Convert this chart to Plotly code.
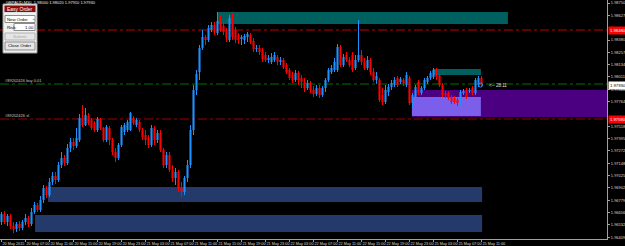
import plotly.graph_objects as go

# ---------------- data ----------------
OPEN = [1.9656, 1.9664, 1.9656, 1.9662, 1.9652, 1.9649, 1.9654, 1.9650, 1.9656, 1.9660,
        1.9654, 1.9666, 1.9673, 1.9668, 1.9678, 1.9690, 1.9683, 1.9696, 1.9702, 1.9698,
        1.9713, 1.9720, 1.9715, 1.9730, 1.9736, 1.9732, 1.9738, 1.9760, 1.9753, 1.9762,
        1.9758, 1.9755, 1.9748, 1.9759, 1.9750, 1.9738, 1.9750, 1.9738, 1.9726, 1.9720,
        1.9733, 1.9746, 1.9748, 1.9748, 1.9760, 1.9753, 1.9756, 1.9748, 1.9743, 1.9740,
        1.9733, 1.9750, 1.9738, 1.9745, 1.9728, 1.9713, 1.9723, 1.9708, 1.9700, 1.9706,
        1.9690, 1.9686, 1.9700, 1.9713, 1.9748, 1.9788, 1.9806, 1.9830, 1.9841, 1.9838,
        1.9848, 1.9853, 1.9845, 1.9857, 1.9852, 1.9848, 1.9838, 1.9860, 1.9848, 1.9843,
        1.9839, 1.9838, 1.9841, 1.9843, 1.9837, 1.9829, 1.9830, 1.9828, 1.9823, 1.9818,
        1.9816, 1.9818, 1.9821, 1.9816, 1.9818, 1.9813, 1.9808, 1.9803, 1.9798, 1.9805,
        1.9800, 1.9796, 1.9790, 1.9795, 1.9788, 1.9784, 1.9790, 1.9783, 1.9790, 1.9798,
        1.9806, 1.9808, 1.9808, 1.9831, 1.9813, 1.9823, 1.9818, 1.9823, 1.9810, 1.9818,
        1.9823, 1.9816, 1.9810, 1.9818, 1.9806, 1.9798, 1.9798, 1.9783, 1.9776, 1.9786,
        1.9791, 1.9793, 1.9800, 1.9796, 1.9798, 1.9793, 1.9800, 1.9775, 1.9781, 1.9796,
        1.9785, 1.9790, 1.9796, 1.9800, 1.9801, 1.9808, 1.9803, 1.9793, 1.9785, 1.9785,
        1.9781, 1.9780, 1.9778, 1.9775, 1.9785, 1.9788, 1.9787, 1.9790, 1.9785, 1.9793,
        1.9800]
HIGH = [1.9666, 1.9667, 1.9664, 1.9664, 1.9656, 1.9656, 1.9657, 1.9658, 1.9664, 1.9662,
        1.9670, 1.9676, 1.9675, 1.9682, 1.9693, 1.9692, 1.9700, 1.9706, 1.9706, 1.9716,
        1.9726, 1.9723, 1.9734, 1.9740, 1.9740, 1.9750, 1.9764, 1.9773, 1.9770, 1.9765,
        1.9760, 1.9757, 1.9761, 1.9760, 1.9751, 1.9753, 1.9752, 1.9740, 1.9730, 1.9735,
        1.9753, 1.9755, 1.9758, 1.9766, 1.9762, 1.9760, 1.9758, 1.9750, 1.9748, 1.9743,
        1.9753, 1.9752, 1.9748, 1.9748, 1.9730, 1.9726, 1.9726, 1.9713, 1.9710, 1.9708,
        1.9696, 1.9702, 1.9718, 1.9753, 1.9793, 1.9808, 1.9833, 1.9848, 1.9843, 1.9853,
        1.9856, 1.9856, 1.9866, 1.9863, 1.9856, 1.9850, 1.9863, 1.9865, 1.9851, 1.9845,
        1.9843, 1.9844, 1.9846, 1.9845, 1.9840, 1.9833, 1.9833, 1.9830, 1.9826, 1.9823,
        1.9825, 1.9826, 1.9823, 1.9821, 1.9820, 1.9815, 1.9810, 1.9806, 1.9808, 1.9807,
        1.9803, 1.9800, 1.9798, 1.9797, 1.9792, 1.9793, 1.9793, 1.9792, 1.9800, 1.9810,
        1.9813, 1.9820, 1.9834, 1.9833, 1.9824, 1.9826, 1.9821, 1.9826, 1.9823, 1.9858,
        1.9828, 1.9820, 1.9822, 1.9820, 1.9810, 1.9806, 1.9800, 1.9790, 1.9793, 1.9794,
        1.9798, 1.9801, 1.9802, 1.9801, 1.9800, 1.9806, 1.9802, 1.9785, 1.9793, 1.9798,
        1.9792, 1.9800, 1.9802, 1.9807, 1.9810, 1.9810, 1.9805, 1.9795, 1.9787, 1.9787,
        1.9783, 1.9782, 1.9780, 1.9788, 1.9789, 1.9790, 1.9790, 1.9792, 1.9800, 1.9802,
        1.9802]
LOW = [1.9653, 1.9654, 1.9652, 1.9649, 1.9645, 1.9646, 1.9647, 1.9648, 1.9653, 1.9651,
       1.9652, 1.9664, 1.9666, 1.9666, 1.9675, 1.9680, 1.9681, 1.9693, 1.9694, 1.9696,
       1.9710, 1.9712, 1.9713, 1.9726, 1.9728, 1.9730, 1.9736, 1.9751, 1.9752, 1.9753,
       1.9748, 1.9746, 1.9746, 1.9748, 1.9736, 1.9736, 1.9733, 1.9723, 1.9716, 1.9718,
       1.9731, 1.9743, 1.9746, 1.9747, 1.9753, 1.9751, 1.9746, 1.9738, 1.9733, 1.9730,
       1.9731, 1.9733, 1.9735, 1.9726, 1.9710, 1.9710, 1.9706, 1.9696, 1.9693, 1.9686,
       1.9681, 1.9683, 1.9696, 1.9710, 1.9743, 1.9783, 1.9798, 1.9828, 1.9833, 1.9836,
       1.9846, 1.9843, 1.9843, 1.9846, 1.9843, 1.9836, 1.9836, 1.9838, 1.9835, 1.9834,
       1.9833, 1.9834, 1.9836, 1.9834, 1.9826, 1.9826, 1.9823, 1.9816, 1.9816, 1.9815,
       1.9814, 1.9816, 1.9813, 1.9813, 1.9809, 1.9804, 1.9798, 1.9795, 1.9796, 1.9793,
       1.9790, 1.9786, 1.9788, 1.9785, 1.9781, 1.9782, 1.9780, 1.9781, 1.9786, 1.9796,
       1.9804, 1.9806, 1.9806, 1.9811, 1.9811, 1.9816, 1.9811, 1.9806, 1.9808, 1.9816,
       1.9813, 1.9808, 1.9808, 1.9803, 1.9796, 1.9794, 1.9776, 1.9773, 1.9774, 1.9782,
       1.9788, 1.9791, 1.9791, 1.9794, 1.9792, 1.9791, 1.9773, 1.9771, 1.9779, 1.9783,
       1.9783, 1.9788, 1.9794, 1.9798, 1.9799, 1.9798, 1.9791, 1.9781, 1.9780, 1.9778,
       1.9774, 1.9774, 1.9772, 1.9773, 1.9783, 1.9779, 1.9785, 1.9783, 1.9783, 1.9791,
       1.9791]
CLOSE = [1.9664, 1.9656, 1.9662, 1.9652, 1.9649, 1.9654, 1.9650, 1.9656, 1.9660, 1.9654,
         1.9666, 1.9673, 1.9668, 1.9678, 1.9690, 1.9683, 1.9696, 1.9702, 1.9698, 1.9713,
         1.9720, 1.9715, 1.9730, 1.9736, 1.9732, 1.9740, 1.9760, 1.9753, 1.9763, 1.9755,
         1.9750, 1.9748, 1.9759, 1.9750, 1.9738, 1.9751, 1.9738, 1.9726, 1.9720, 1.9733,
         1.9751, 1.9753, 1.9756, 1.9765, 1.9755, 1.9758, 1.9748, 1.9741, 1.9738, 1.9733,
         1.9750, 1.9738, 1.9745, 1.9728, 1.9713, 1.9723, 1.9708, 1.9700, 1.9706, 1.9690,
         1.9686, 1.9700, 1.9713, 1.9748, 1.9788, 1.9804, 1.9830, 1.9841, 1.9838, 1.9850,
         1.9853, 1.9846, 1.9857, 1.9848, 1.9846, 1.9840, 1.9860, 1.9841, 1.9838, 1.9838,
         1.9841, 1.9842, 1.9844, 1.9836, 1.9829, 1.9830, 1.9826, 1.9819, 1.9818, 1.9820,
         1.9821, 1.9823, 1.9816, 1.9818, 1.9811, 1.9806, 1.9800, 1.9798, 1.9805, 1.9798,
         1.9796, 1.9790, 1.9795, 1.9788, 1.9784, 1.9790, 1.9783, 1.9790, 1.9798, 1.9808,
         1.9810, 1.9816, 1.9831, 1.9813, 1.9821, 1.9818, 1.9813, 1.9808, 1.9818, 1.9823,
         1.9816, 1.9810, 1.9818, 1.9806, 1.9798, 1.9802, 1.9778, 1.9776, 1.9788, 1.9791,
         1.9795, 1.9798, 1.9793, 1.9799, 1.9795, 1.9803, 1.9775, 1.9783, 1.9791, 1.9785,
         1.9790, 1.9798, 1.9800, 1.9805, 1.9808, 1.9801, 1.9793, 1.9783, 1.9783, 1.9780,
         1.9776, 1.9776, 1.9775, 1.9786, 1.9787, 1.9781, 1.9788, 1.9785, 1.9798, 1.9800,
         1.9793]

X_TICK_POS = [0, 8, 16, 24, 32, 40, 48, 56, 64, 72, 80, 88, 96, 104, 112, 120, 128, 136, 144, 152, 160]
X_TICK_TEXT = ["20 May 2015", "20 May 07:00", "20 May 11:00", "20 May 15:00", "20 May 19:00",
               "20 May 23:00", "21 May 03:00", "21 May 07:00", "21 May 11:00", "21 May 15:00",
               "21 May 19:00", "21 May 23:00", "22 May 03:00", "22 May 07:00", "22 May 11:00",
               "22 May 15:00", "22 May 19:00", "22 May 23:00", "25 May 03:00", "25 May 07:00",
               "25 May 11:00"]
Y_TICK_VALS = [1.98750, 1.98627, 1.98380, 1.98257, 1.98134, 1.98011, 1.97888,
               1.97764, 1.97518, 1.97395, 1.97272, 1.97148, 1.97025, 1.96902,
               1.96779, 1.96656, 1.96532, 1.96409]
Y_TICK_TEXT = ["%.5f" % v for v in Y_TICK_VALS]

LEVEL_PRICE = 1.9848   # red dash-dot level
BUY_PRICE = 1.9794     # order open price
SL_PRICE = 1.9759      # stop loss
TITLE = "GBPAUD,M30  1.98000 1.98020 1.97910 1.97930"
ORDER_BUY = "#89202426 buy 0.01"
ORDER_SL = "#89202426 sl"
TIMER = "&lt;-- 28:11"

# zones: (x0, x1, price_top, price_bottom, color)
ZONES = [
    (136.8, 205.0, 1.9788, 1.9761, "#4B0082"),
    (136.8, 159.8, 1.9781, 1.9762, "#7B5FEA"),
    (72.2, 168.8, 1.9866, 1.9854, "#006060"),
    (143.8, 159.8, 1.9809, 1.9803, "#006060"),
    (15.5, 160.2, 1.9691, 1.9676, "#243A6B"),
    (11.2, 160.2, 1.9663, 1.9646, "#243A6B"),
]

UP = "#1E90FF"
DOWN = "#FF0000"
AXC = "#A0A0A0"
TXT = "#D8D8D8"
FONT = "Liberation Sans"

W, H = 625, 246
ML, MR, MT, MB = 0, 18, 0, 7
PW, PH = W - ML - MR, H - MT - MB


def px(xp):
    return xp / PW


def py(yp):
    return 1 - yp / PH


idx = list(range(len(OPEN)))
colors = [UP if c >= o else DOWN for o, c in zip(OPEN, CLOSE)]
base = [min(o, c) for o, c in zip(OPEN, CLOSE)]
body = [abs(c - o) for o, c in zip(OPEN, CLOSE)]

fig = go.Figure()

for col in (UP, DOWN):
    wx, wy = [], []
    for i in idx:
        if colors[i] == col:
            wx += [i, i, None]
            wy += [LOW[i], HIGH[i], None]
    fig.add_trace(go.Scatter(x=wx, y=wy, mode="lines", line=dict(color=col, width=1),
                             hoverinfo="skip"))

fig.add_trace(go.Bar(x=idx, y=body, base=base, width=0.7,
                     marker=dict(color=colors, line=dict(width=0)), hoverinfo="skip"))

fig.add_trace(go.Scatter(x=[idx[-1] - 0.3], y=[CLOSE[-1]], mode="markers",
                         marker=dict(symbol="circle-open", size=4, color=UP, line=dict(width=1)),
                         hoverinfo="skip"))

shapes = []
for x0, x1, y0, y1, c in ZONES:
    shapes.append(dict(type="rect", xref="x", yref="y", x0=x0, x1=x1, y0=y0, y1=y1,
                       fillcolor=c, line=dict(width=0), layer="below"))
for yv, c in ((LEVEL_PRICE, "#C00000"), (BUY_PRICE, "#007000"), (SL_PRICE, "#A00000")):
    shapes.append(dict(type="line", xref="paper", yref="y", x0=0, x1=1, y0=yv, y1=yv,
                       line=dict(color=c, width=1, dash="dashdot"), layer="below"))

# Easy Order panel
panel = [
    (3, 4, 37, 53, "#F0F0F0", "#9A9A9A"),
    (4, 5, 36, 12.5, "#8C0A0A", "#E0E0E0"),
    (5, 15.5, 35, 22.5, "#FFFFFF", "#8A8A8A"),
    (14, 23.5, 35, 30.5, "#FFFFFF", "#8A8A8A"),
    (5, 33, 35, 40, "#E6E6E6", "#B0B0B0"),
    (5, 42, 35, 50, "#E6E6E6", "#8A8A8A"),
]
for x0, y0, x1, y1, fc, lc in panel:
    shapes.append(dict(type="rect", xref="paper", yref="paper", x0=px(x0), x1=px(x1),
                       y0=py(y0), y1=py(y1), fillcolor=fc, line=dict(color=lc, width=1),
                       layer="above"))

ann = []


def label(text, x, y, size=4.5, color="black", xanchor="center", xref="paper", yref="paper"):
    ann.append(dict(text=text, x=x, y=y, xref=xref, yref=yref, xanchor=xanchor,
                    yanchor="middle", showarrow=False, borderpad=0,
                    font=dict(size=size, color=color, family=FONT)))


label("Easy Order", px(20), py(8.7), 5, "white")
label("New Order", px(6), py(19), 4.3, "black", "left")
label("⌄", px(33), py(18.5), 4.3, "black")
label("Risk:", px(5.5), py(27), 4.3, "black", "left")
label("1.00", px(34.5), py(27), 4.3, "black", "right")
label("Submit", px(20), py(36.5), 4.3, "#A8A8A8")
label("Close Order", px(20), py(46), 4.3, "black")
label(TITLE, px(5), py(2), 4.0, "#E8E8E8", "left")

ann.append(dict(text=ORDER_BUY, x=px(4), xref="paper", y=BUY_PRICE, yref="y", xanchor="left",
                yanchor="bottom", showarrow=False, borderpad=0,
                font=dict(size=4, color="#C8C8C8", family=FONT)))
ann.append(dict(text=ORDER_SL, x=px(4), xref="paper", y=SL_PRICE, yref="y", xanchor="left",
                yanchor="bottom", showarrow=False, borderpad=0,
                font=dict(size=4, color="#C8C8C8", family=FONT)))
ann.append(dict(text=TIMER, x=idx[-1] + 2, xref="x", y=CLOSE[-1], yref="y", xanchor="left",
                yanchor="middle", showarrow=False, borderpad=0,
                font=dict(size=4.5, color="#E0E0E0", family=FONT)))

for yv, bg, fg in ((LEVEL_PRICE, "#FF0000", "white"), (SL_PRICE, "#FF0000", "white"),
                   (CLOSE[-1], "#FFFFFF", "black")):
    ann.append(dict(text="%.5f" % yv, x=1, xref="paper", y=yv, yref="y", xanchor="left",
                    yanchor="middle", showarrow=False, bgcolor=bg, borderpad=1, xshift=1,
                    font=dict(size=4.2, color=fg, family=FONT)))

fig.update_layout(
    width=W, height=H, margin=dict(l=ML, r=MR, t=MT, b=MB, autoexpand=False),
    paper_bgcolor="black", plot_bgcolor="black", showlegend=False,
    barmode="overlay", hovermode=False, shapes=shapes, annotations=ann,
    xaxis=dict(range=[-0.5, -0.5 + PW / 3.0], showgrid=False, zeroline=False,
               showline=True, linecolor=AXC, linewidth=1, ticks="outside", ticklen=2,
               tickcolor=AXC, tickvals=X_TICK_POS, ticktext=X_TICK_TEXT,
               ticklabelposition="outside right", tickangle=0, automargin=False,
               tickfont=dict(size=3.8, color=TXT, family=FONT)),
    yaxis=dict(range=[1.9878 - PH / 10000.0, 1.9878], side="right", showgrid=False,
               zeroline=False, showline=True, linecolor=AXC, linewidth=1, ticks="outside",
               ticklen=2, tickcolor=AXC, tickvals=Y_TICK_VALS, ticktext=Y_TICK_TEXT,
               automargin=False, tickfont=dict(size=4, color=TXT, family=FONT)),
)

fig.write_html("out.html", config={"displayModeBar": False})
